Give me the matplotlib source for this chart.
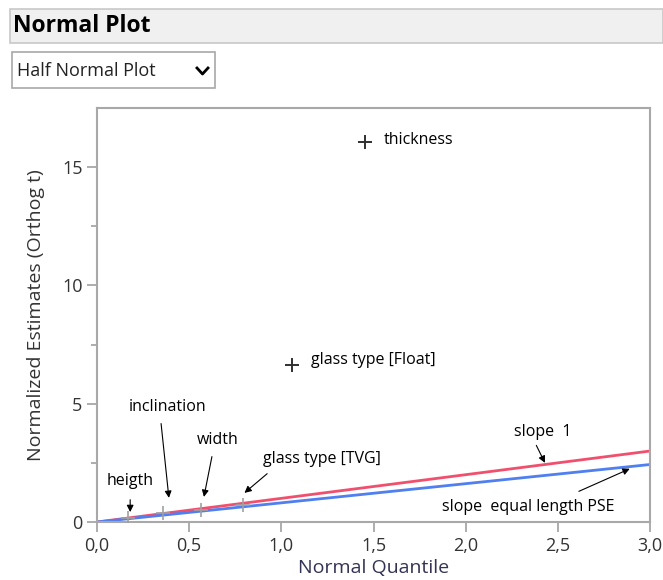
import matplotlib.pyplot as plt
from matplotlib.patches import Rectangle
from matplotlib.lines import Line2D
import numpy as np

# effects: half normal quantile vs normalized estimate
effects = ["heigth", "inclination", "width", "glass type [TVG]",
           "glass type [Float]", "thickness"]
quantile = [0.17, 0.36, 0.565, 0.79, 1.06, 1.455]
estimate = [0.18, 0.38, 0.52, 0.72, 6.65, 16.05]

line_x = [0.0, 3.0]
slope_one = 1.0
slope_pse = 0.81

W, H = 663, 580
fig = plt.figure(figsize=(W / 100, H / 100), dpi=100)
plt.rcParams['font.family'] = ['Open Sans', 'DejaVu Sans']


def fx(px):
    return px / W


def fy(py):
    return 1 - py / H


# header bar
fig.patches.append(Rectangle((fx(10), fy(43)), fx(663 - 10), 34 / H,
                             transform=fig.transFigure, facecolor="#f0f0f0",
                             edgecolor="#c8c8c8", lw=1.2))
fig.text(fx(13), fy(26), "Normal Plot", fontsize=16.5, fontweight="bold",
         va="center", ha="left", color="black")

# dropdown box
fig.patches.append(Rectangle((fx(12), fy(88)), fx(215 - 12), 36 / H,
                             transform=fig.transFigure, facecolor="white",
                             edgecolor="#a8a8a8", lw=1.2))
fig.text(fx(17), fy(71), "Half Normal Plot", fontsize=13, va="center",
         ha="left", color="#222222")
fig.lines.append(Line2D([fx(197), fx(202.5), fx(208)], [fy(68), fy(74), fy(68)],
                        transform=fig.transFigure, color="black", lw=2.0))

ax = fig.add_axes([97 / W, 1 - 522 / H, 553 / W, 414 / H])

ax.plot(line_x, [slope_one * v for v in line_x], color="#f0506e", lw=2)
ax.plot(line_x, [slope_pse * v for v in line_x], color="#4f7ff0", lw=2)
ax.scatter(quantile[:4], estimate[:4], marker="+", s=110, color="#a0a0a0",
           linewidths=1.2, zorder=3)
ax.scatter(quantile[4:], estimate[4:], marker="+", s=110, color="#303030",
           linewidths=1.4, zorder=3)

fs = 11.5
ax.text(quantile[5] + 0.1, estimate[5] + 0.1, effects[5], fontsize=fs, va="center")
ax.text(quantile[4] + 0.1, estimate[4] + 0.2, effects[4], fontsize=fs, va="center")

arrow = dict(arrowstyle="-|>", color="black", lw=0.8, mutation_scale=10)
ax.annotate(effects[0], xy=(0.18, 0.42), xytext=(0.18, 1.75), fontsize=fs,
            ha="center", va="center",
            arrowprops=dict(arrow, shrinkA=6, shrinkB=0))
ax.annotate(effects[1], xy=(0.39, 1.02), xytext=(0.385, 4.85), fontsize=fs,
            ha="center", va="center",
            arrowprops=dict(arrow, shrinkA=4, shrinkB=0, relpos=(0.4, 0)))
ax.annotate(effects[2], xy=(0.58, 1.06), xytext=(0.655, 3.45), fontsize=fs,
            ha="center", va="center",
            arrowprops=dict(arrow, shrinkA=4, shrinkB=0, relpos=(0.4, 0)))
ax.annotate(effects[3], xy=(0.80, 1.23), xytext=(0.90, 2.65), fontsize=fs,
            ha="left", va="center",
            arrowprops=dict(arrow, shrinkA=4, shrinkB=0, relpos=(0.1, 0)))
ax.annotate("slope  1", xy=(2.43, 2.5), xytext=(2.26, 3.8), fontsize=fs,
            ha="left", va="center",
            arrowprops=dict(arrow, shrinkA=2, shrinkB=0, relpos=(0.35, 0)))
ax.annotate("slope  equal length PSE", xy=(2.89, 2.25), xytext=(1.87, 0.65),
            fontsize=fs, ha="left", va="center",
            arrowprops=dict(arrow, shrinkA=8, shrinkB=0, relpos=(0.7, 1)))

ax.set_xlim(0, 3.0)
ax.set_ylim(0, 17.5)
ax.set_xticks(np.arange(0, 3.01, 0.5))
ax.set_xticklabels([f"{v:.1f}".replace(".", ",") for v in np.arange(0, 3.01, 0.5)])
ax.set_yticks([0, 5, 10, 15])
ax.set_yticks([2.5, 7.5, 12.5], minor=True)
ax.tick_params(axis="both", labelsize=13, colors="#a0a0a0", labelcolor="#333333",
               length=7, width=1.2)
ax.tick_params(axis="y", which="minor", length=4, colors="#a0a0a0", width=1.2)
for s in ax.spines.values():
    s.set_color("#a8a8a8")
    s.set_linewidth(1.5)

ax.set_xlabel("Normal Quantile", fontsize=14, color="#333355", labelpad=3)
ax.set_ylabel("Normalized Estimates (Orthog t)", fontsize=14, color="#333333",
              labelpad=12)

fig.savefig("out.png", dpi=100)
